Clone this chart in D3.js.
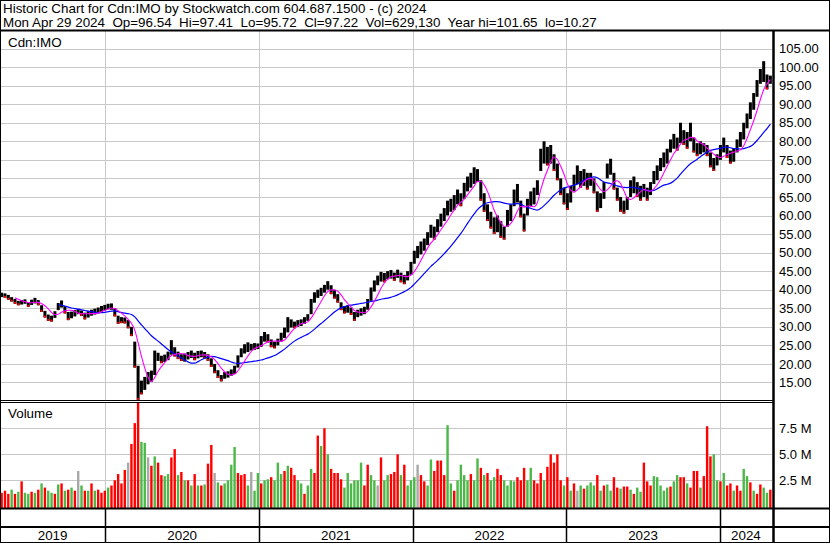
<!DOCTYPE html>
<html>
<head>
<meta charset="utf-8">
<script src="https://cdn.jsdelivr.net/npm/d3@7"></script>
<style>
body { margin: 0; background: #fff; }
svg text { font-family: Arial, "Liberation Sans", sans-serif; fill: #000; }
</style>
</head>
<body>
<div id="chart"></div>
<script>
"use strict";

// header text
var titleLine1 = "Historic Chart for Cdn:IMO by Stockwatch.com 604.687.1500 - (c) 2024";
var titleLine2 = "Mon Apr 29 2024  Op=96.54  Hi=97.41  Lo=95.72  Cl=97.22  Vol=629,130  Year hi=101.65  lo=10.27";
var symbol = "Cdn:IMO";

// time span of the chart
var startDate = new Date(2019, 3, 26);
var endDate = new Date(2024, 4, 4);
var yearStarts = [new Date(2020, 0, 1), new Date(2021, 0, 1), new Date(2022, 0, 1), new Date(2023, 0, 1), new Date(2024, 0, 1)];
var yearLabels = ["2019", "2020", "2021", "2022", "2023", "2024"];

// weekly price bars (high / low)
var highs = [
    39.2, 39.0, 38.6, 38.0, 37.5, 37.0, 37.2, 37.4, 36.6, 37.3,
    37.8, 37.2, 35.8, 34.3, 33.3, 33.0, 34.2, 36.4, 37.1, 35.6,
    34.0, 34.1, 34.5, 34.8, 34.4, 33.8, 34.2, 34.6, 34.9, 35.2,
    35.6, 35.9, 36.2, 36.3, 35.0, 33.0, 32.6, 32.5, 31.8, 30.0,
    26.0, 19.5, 15.5, 16.5, 17.8, 18.2, 23.6, 23.0, 22.2, 22.5,
    23.3, 26.4, 24.5, 23.3, 22.6, 22.8, 23.2, 23.6, 23.0, 23.5,
    23.6, 23.2, 22.6, 21.5, 20.0, 18.3, 17.0, 17.8, 18.0, 18.5,
    19.5, 22.3, 24.2, 25.3, 25.8, 25.4, 25.6, 25.5, 27.5, 28.6,
    28.0, 26.6, 26.0, 26.8, 28.4, 29.8, 32.6, 32.0, 31.4, 31.8,
    32.0, 32.6, 33.4, 37.5, 39.3, 40.0, 40.5, 41.3, 42.3, 41.2,
    40.0, 38.8, 36.6, 35.6, 35.8, 35.2, 34.0, 34.6, 35.0, 35.4,
    37.5, 40.6, 42.5, 43.8, 44.8, 44.5, 45.0, 45.3, 44.6, 45.4,
    44.6, 44.0, 45.0, 47.5, 50.5, 51.8, 53.0, 53.8, 55.5, 57.5,
    57.0, 59.0, 60.5, 62.0, 64.0, 64.5, 65.5, 67.0, 66.0, 68.8,
    70.5, 71.5, 73.0, 72.5, 69.5, 66.0, 63.0, 61.0, 59.5, 60.0,
    58.5, 57.0, 61.5, 63.0, 67.0, 68.5, 64.0, 60.5, 64.5, 66.5,
    67.5, 69.5, 78.0, 80.0, 78.5, 79.0, 76.5, 74.0, 70.0, 67.5,
    66.0, 68.0, 71.0, 73.5, 72.0, 72.5, 71.5, 71.5, 70.0, 66.5,
    66.0, 69.0, 74.0, 75.3, 71.5, 67.5, 65.0, 64.0, 65.0, 69.5,
    70.5, 69.0, 68.0, 68.5, 67.5, 69.0, 72.0, 73.5, 75.5, 77.0,
    78.0, 80.5, 82.0, 81.0, 85.0, 83.0, 82.5, 85.0, 81.0, 79.5,
    80.0, 79.5, 79.0, 77.0, 75.5, 76.5, 79.0, 81.0, 79.0, 77.5,
    78.0, 80.5, 82.5, 85.0, 87.5, 90.5, 93.0, 96.5, 99.5, 101.6,
    98.0, 97.7
];
var lows = [
    38.0, 37.8, 37.3, 36.8, 36.2, 35.8, 36.0, 36.2, 35.4, 35.9,
    36.3, 35.8, 34.0, 32.5, 31.6, 31.4, 32.4, 34.5, 35.2, 33.6,
    31.8, 32.3, 32.8, 33.4, 32.9, 32.0, 32.5, 33.0, 33.3, 33.6,
    34.0, 34.4, 34.7, 34.6, 32.8, 30.8, 31.0, 30.9, 29.6, 27.5,
    19.0, 10.3, 11.8, 13.0, 14.5, 15.2, 17.0, 20.8, 20.2, 20.5,
    21.0, 22.5, 22.0, 21.3, 20.8, 20.6, 21.2, 21.6, 21.0, 21.5,
    21.8, 21.4, 20.8, 19.2, 17.5, 16.2, 15.3, 16.0, 16.3, 16.8,
    17.3, 19.0, 21.8, 22.8, 23.2, 23.6, 23.8, 24.0, 24.6, 26.0,
    25.8, 24.5, 24.2, 25.0, 26.0, 27.0, 28.5, 29.8, 29.6, 30.0,
    30.2, 30.8, 31.6, 33.4, 36.5, 37.8, 38.3, 39.2, 40.0, 38.8,
    37.6, 36.5, 34.5, 33.6, 33.8, 33.2, 31.6, 32.6, 33.0, 33.4,
    34.6, 37.0, 39.5, 41.2, 42.2, 42.0, 42.8, 43.0, 42.4, 43.2,
    42.0, 41.5, 42.5, 44.0, 47.0, 48.5, 49.5, 50.5, 52.0, 54.0,
    53.5, 55.5, 57.0, 58.5, 60.0, 61.0, 61.5, 63.0, 62.5, 64.5,
    66.5, 67.5, 68.5, 69.0, 64.0, 61.0, 58.5, 56.5, 55.0, 55.5,
    54.0, 53.5, 57.0, 58.5, 62.5, 63.5, 59.5, 55.7, 60.0, 62.5,
    63.0, 65.5, 72.0, 74.0, 73.5, 74.0, 72.0, 69.5, 65.5, 63.0,
    61.5, 63.5, 66.5, 68.5, 67.5, 68.0, 67.0, 68.0, 66.0, 61.0,
    62.0, 64.5, 70.0, 71.0, 67.0, 64.0, 61.0, 60.5, 61.5, 65.0,
    66.0, 65.0, 64.0, 65.0, 64.0, 65.5, 68.5, 69.5, 72.0, 73.0,
    74.0, 77.0, 78.0, 77.5, 79.5, 79.0, 78.0, 80.0, 77.0, 76.0,
    76.5, 77.0, 76.0, 73.0, 72.0, 73.5, 75.0, 77.0, 75.5, 74.0,
    74.5, 77.0, 78.5, 80.5, 83.5, 86.0, 88.5, 92.0, 95.5, 96.0,
    94.0, 95.5
];

// volume per bar, millions of shares
var volumes = [
    1.3, 1.5, 1.2, 1.6, 1.2, 1.4, 2.4, 1.3, 1.2, 1.4,
    1.3, 1.6, 2.2, 1.8, 1.5, 1.3, 1.2, 2.1, 2.2, 1.5,
    1.6, 1.8, 1.5, 3.4, 2.0, 1.5, 1.5, 2.2, 1.5, 1.6,
    1.3, 1.5, 1.8, 2.0, 2.5, 3.1, 2.2, 3.5, 4.2, 6.0,
    8.0, 10.0, 6.2, 6.1, 4.7, 3.9, 4.8, 4.2, 3.0, 2.9,
    3.1, 4.7, 5.5, 3.0, 3.3, 2.5, 2.5, 2.0, 3.1, 2.0,
    2.0, 2.1, 4.1, 5.9, 3.2, 2.3, 2.0, 2.2, 2.5, 4.0,
    5.7, 3.2, 3.0, 3.1, 2.0, 3.3, 1.5, 3.2, 2.2, 2.5,
    2.6, 2.8, 2.5, 4.2, 3.1, 3.4, 3.9, 3.7, 3.0, 2.5,
    2.2, 1.2, 2.0, 3.6, 3.2, 6.8, 5.8, 7.5, 5.0, 3.6,
    3.2, 3.2, 2.6, 1.8, 3.2, 2.2, 2.5, 2.5, 4.2, 2.0,
    4.0, 3.0, 2.5, 2.0, 4.7, 2.5, 3.0, 3.1, 3.3, 5.0,
    3.0, 4.0, 2.0, 2.5, 2.8, 4.0, 3.0, 2.4, 2.0, 4.5,
    3.4, 4.4, 4.4, 3.0, 7.8, 2.2, 1.5, 2.5, 4.0, 3.0,
    2.5, 3.1, 2.5, 4.6, 3.7, 3.0, 3.2, 2.5, 2.8, 3.6,
    3.0, 2.5, 2.0, 2.5, 2.4, 2.8, 2.5, 3.7, 2.5, 3.7,
    2.5, 2.2, 3.2, 2.5, 3.8, 5.0, 4.2, 5.0, 2.5, 2.0,
    2.8, 1.5, 2.2, 1.5, 2.0, 1.7, 2.0, 2.3, 2.0, 3.0,
    1.5, 2.0, 2.1, 1.5, 2.8, 1.8, 1.7, 1.9, 1.9, 1.6,
    1.2, 1.8, 1.4, 4.2, 2.4, 2.0, 2.9, 2.8, 2.0, 1.5,
    1.8, 1.9, 2.4, 3.0, 2.8, 2.8, 2.2, 1.8, 3.4, 3.4,
    1.8, 2.9, 7.7, 4.8, 5.0, 2.5, 2.4, 3.2, 2.0, 2.2,
    1.5, 2.0, 1.5, 3.6, 2.9, 2.3, 1.5, 1.2, 2.1, 1.8,
    1.3, 1.6
];

// volume bar colour per bar as seen: r = down, g = up, n = unchanged
var volumeColours =
    "rrrgrgrggr" + "grgrggrgrg" + "rgrngrgrgr" + "rrgrrrrrnr" +
    "rrggnrgrrg" + "grrgrgrgrg" + "rgrrngrggg" + "grrrgnggrg" +
    "grgggrgrrg" + "grggrrgrgr" + "rrrggggggr" + "rggnrggrrr" +
    "grgggnrrgg" + "rrrrggrggg" + "grggrgrggr" + "rggggrrrgg" +
    "rrrgrrrrrg" + "rgrngrgggr" + "grggrrgrrg" + "rggrrrgggg" +
    "grggrrgrrr" + "grrrggrgrr" + "grrggrgrrg" + "gr";

var priceTicks = [15, 20, 25, 30, 35, 40, 45, 50, 55, 60, 65, 70, 75, 80, 85, 90, 95, 100, 105];
var volumeTicks = [2.5, 5.0, 7.5];

// moving average lengths (in bars)
var shortLen = 5;
var longLen = 18;

function drawChart()
{
    var W = 830, H = 543;
    var plotRight = 772;
    var priceTop = 31, priceBottom = 401;
    var volTop = 403, volBottom = 508;

    var svg = d3.select("#chart").append("svg")
        .attr("width", W)
        .attr("height", H);

    svg.append("rect")
        .attr("width", W).attr("height", H)
        .attr("fill", "#fff");

    var n = highs.length;
    var step = (endDate - startDate) / n;
    var bars = highs.map(function(h, i) {
        return {
            date: new Date(startDate.getTime() + (i + 0.5) * step),
            high: h,
            low: lows[i],
            mid: (h + lows[i]) / 2,
            vol: volumes[i],
            colour: volumeColours.charAt(i)
        };
    });
    bars.forEach(function(d, i) {
        d.up = i == 0 ? true : d.mid >= bars[i - 1].mid;
    });

    //scales
    var x = d3.scaleTime().domain([startDate, endDate]).range([0, plotRight]);
    var yP = d3.scaleLinear().domain([10, 110]).range([priceBottom, 30]);
    var yV = d3.scaleLinear().domain([0, 10]).range([506.3, 402.3]);

    var grid = "#c8c8c8";
    var volFill = { r: "#ff0000", g: "#4cb848", n: "#a8a8a8" };

    // price grid
    svg.append("g").selectAll("line")
        .data(priceTicks)
        .enter().append("line")
        .attr("x1", 0).attr("x2", plotRight)
        .attr("y1", function(d) { return Math.round(yP(d)) + 0.5; })
        .attr("y2", function(d) { return Math.round(yP(d)) + 0.5; })
        .attr("stroke", grid);

    // volume grid
    svg.append("g").selectAll("line")
        .data(volumeTicks)
        .enter().append("line")
        .attr("x1", 0).attr("x2", plotRight)
        .attr("y1", function(d) { return Math.round(yV(d)) + 0.5; })
        .attr("y2", function(d) { return Math.round(yV(d)) + 0.5; })
        .attr("stroke", grid);

    // vertical year grid
    var vg = svg.append("g");
    yearStarts.forEach(function(d) {
        var xx = Math.round(x(d)) + 0.5;
        vg.append("line").attr("x1", xx).attr("x2", xx)
            .attr("y1", priceTop).attr("y2", priceBottom)
            .attr("stroke", grid);
        vg.append("line").attr("x1", xx).attr("x2", xx)
            .attr("y1", volTop).attr("y2", volBottom)
            .attr("stroke", grid);
    });

    // volume bars
    svg.append("g").selectAll("rect")
        .data(bars)
        .enter().append("rect")
        .attr("x", function(d) { return x(d.date) - 1.2; })
        .attr("width", 2.4)
        .attr("y", function(d) { return yV(d.vol); })
        .attr("height", function(d) { return volBottom - yV(d.vol); })
        .attr("fill", function(d) { return volFill[d.colour] || volFill.g; });

    // price bars
    svg.append("g").selectAll("rect")
        .data(bars)
        .enter().append("rect")
        .attr("x", function(d) { return x(d.date) - 1.5; })
        .attr("width", 3)
        .attr("y", function(d) { return yP(d.high); })
        .attr("height", function(d) { return Math.max(1, yP(d.low) - yP(d.high)); })
        .attr("fill", "#000");

    // red close marks on down bars
    svg.append("g").selectAll("rect")
        .data(bars.filter(function(d) { return !d.up; }))
        .enter().append("rect")
        .attr("x", function(d) { return x(d.date) - 1; })
        .attr("width", 2)
        .attr("y", function(d) { return yP(d.low) - 2; })
        .attr("height", 2)
        .attr("fill", "#ff0000");

    // moving averages
    function movingAvg(len) {
        var out = [];
        for (var i = len - 1; i < bars.length; i++) {
            var s = 0;
            for (var j = i - len + 1; j <= i; j++) s += bars[j].mid;
            out.push({ date: bars[i].date, value: s / len });
        }
        return out;
    }
    var line = d3.line()
        .x(function(d) { return x(d.date); })
        .y(function(d) { return yP(d.value); })
        .curve(d3.curveMonotoneX);

    svg.append("path")
        .datum(movingAvg(longLen))
        .attr("d", line)
        .attr("fill", "none")
        .attr("stroke", "#0000ff")
        .attr("stroke-width", 1.2);
    svg.append("path")
        .datum(movingAvg(shortLen))
        .attr("d", line)
        .attr("fill", "none")
        .attr("stroke", "#ff00ff")
        .attr("stroke-width", 1.1);

    // frame lines
    function hline(y, x1, x2, w) {
        svg.append("line").attr("x1", x1).attr("x2", x2)
            .attr("y1", y).attr("y2", y)
            .attr("stroke", "#000").attr("stroke-width", w);
    }
    function vline(xx, y1, y2, w) {
        svg.append("line").attr("x1", xx).attr("x2", xx)
            .attr("y1", y1).attr("y2", y2)
            .attr("stroke", "#000").attr("stroke-width", w);
    }
    hline(30.5, 0, W, 2);
    hline(400.5, 0, 774, 1);
    hline(402.5, 0, 774, 1);
    hline(508.5, 0, W, 2);
    hline(527, 0, W, 2);
    vline(773.5, 30, H, 2.5);
    yearStarts.forEach(function(d) {
        vline(Math.round(x(d)) + 0.5, volBottom, H, 1.5);
    });
    svg.append("rect")
        .attr("x", 0.5).attr("y", 0.5)
        .attr("width", W - 1).attr("height", H - 1)
        .attr("fill", "none").attr("stroke", "#000");

    // header
    svg.append("text").attr("x", 3).attr("y", 13)
        .style("font-size", "13.4px").text(titleLine1);
    svg.append("text").attr("x", 3).attr("y", 27)
        .style("font-size", "13.4px")
        .style("white-space", "pre").text(titleLine2);

    svg.append("text").attr("x", 8).attr("y", 47)
        .style("font-size", "13.4px").text(symbol);
    svg.append("text").attr("x", 8).attr("y", 418)
        .style("font-size", "13.4px").text("Volume");

    // price axis labels
    svg.append("g").selectAll("text")
        .data(priceTicks)
        .enter().append("text")
        .attr("x", 779)
        .attr("y", function(d) { return yP(d); })
        .attr("dy", "0.36em")
        .style("font-size", "13px")
        .text(function(d) { return d.toFixed(2); });

    // volume axis labels
    svg.append("g").selectAll("text")
        .data(volumeTicks)
        .enter().append("text")
        .attr("x", 779)
        .attr("y", function(d) { return yV(d); })
        .attr("dy", "0.36em")
        .style("font-size", "13px")
        .text(function(d) { return d.toFixed(1) + " M"; });

    // year labels, centred in each year cell
    var edges = [0].concat(yearStarts.map(function(d) { return x(d); })).concat([plotRight]);
    svg.append("g").selectAll("text")
        .data(yearLabels)
        .enter().append("text")
        .attr("x", function(d, i) { return (edges[i] + edges[i + 1]) / 2; })
        .attr("y", 540)
        .attr("text-anchor", "middle")
        .style("font-size", "13.4px")
        .text(function(d) { return d; });
}

window.addEventListener("load", function() {
    drawChart();
});
</script>
</body>
</html>
